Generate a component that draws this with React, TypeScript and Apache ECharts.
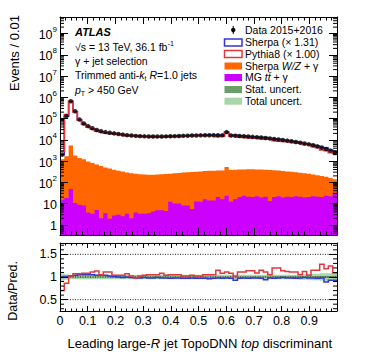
import React, { useEffect, useRef } from "react";
import * as echarts from "echarts";

const NBINS = 64;
const X_MIN = 0;
const X_MAX = 1;
const MAIN_YMIN = 0.33;
const MAIN_YMAX = 6e9;
const RATIO_YMIN = 0.25;
const RATIO_YMAX = 1.75;
const MAIN_Y_TICKS = [1, 10, 100, 1e3, 1e4, 1e5, 1e6, 1e7, 1e8, 1e9];
const RATIO_Y_TICKS = [0.5, 1, 1.5];

// Data 2015+2016 (events per bin)
const dataEvents = [
  2000, 130000, 650000, 220000, 90000, 58000, 44000, 35000, 29000, 25000,
  23000, 21500, 20000, 18800, 17500, 16500, 15800, 15200, 14800, 14500,
  14300, 14200, 14200, 14300, 14400, 14600, 14800, 15000, 15300, 15500,
  15800, 16000, 16200, 16300, 16400, 16400, 16300, 16200, 23000, 16000,
  15400, 15000, 14600, 14200, 13700, 13200, 12700, 12100, 11500, 10900,
  10300, 9700, 9100, 8500, 7900, 7300, 6700, 6100, 5500, 4900,
  4300, 3700, 3100, 2500,
];

// Sherpa W/Z + gamma (stacked top)
const wzGamma = [
  1200, 1700, 5400, 1800, 1400, 1200, 950, 800, 680, 580,
  500, 440, 390, 350, 320, 290, 265, 250, 240, 232,
  228, 228, 232, 238, 245, 255, 265, 275, 285, 295,
  305, 315, 325, 335, 345, 350, 355, 360, 520, 375,
  385, 395, 400, 405, 405, 400, 395, 390, 380, 370,
  355, 340, 325, 310, 295, 280, 265, 250, 235, 215,
  200, 180, 160, 140,
];

// MG ttbar + gamma
const ttGamma = [
  15, 18, 48, 10.5, 8.8, 8, 3.8, 3.3, 5, 2,
  3.5, 1.9, 2.7, 3, 2.5, 3.3, 2, 3.8, 3.3, 3.3,
  3.5, 4.2, 4.8, 4.8, 4.5, 12, 10, 10, 8, 8,
  5.5, 12.6, 12, 16, 14, 14, 20, 16, 23, 12.6,
  16, 20, 23, 21, 20, 22, 19, 21, 13, 20,
  22, 19, 21, 20, 22, 21, 19, 20, 22, 21,
  20, 23, 22, 32,
];

// Data / Pythia8 (x 1.00)
const ratioPythia = [
  0.7, 0.86, 1.02, 1.07, 1.07, 1.08, 1.08, 1.11, 1.13, 1.05,
  1.11, 1.11, 1.04, 1.04, 1.04, 1.07, 1.02, 0.98, 1.02, 1.04,
  1.05, 1.05, 1.05, 1.08, 1.04, 1.05, 1.05, 1.05, 1.02, 1.02,
  1.04, 1.02, 1.02, 1.05, 1.05, 1.05, 1.15, 1.08, 1.11, 1.08,
  1.02, 1.11, 1.11, 1.14, 1.14, 1.09, 1.15, 1.11, 1.05, 1.2,
  1.2, 1.14, 1.12, 1.11, 1.11, 1.05, 1.12, 1.04, 1.15, 1.15,
  1.28, 1.18, 1.24, 1.09,
];

// Data / Sherpa (x 1.31)
const ratioSherpa = [
  1.0, 1.01, 1.02, 1.04, 1.05, 1.05, 1.05, 1.05, 1.04, 1.04,
  1.04, 1.02, 1.01, 1.0, 0.99, 1.0, 0.99, 0.98, 0.98, 0.99,
  0.98, 0.98, 0.99, 0.98, 0.98, 0.97, 0.98, 0.98, 0.97, 0.97,
  0.98, 0.97, 0.97, 0.97, 0.96, 0.97, 0.98, 0.97, 0.98, 0.97,
  0.93, 0.97, 0.98, 0.97, 0.98, 0.98, 0.97, 0.94, 0.98, 0.97,
  0.98, 0.99, 0.98, 0.98, 0.97, 0.98, 0.99, 0.98, 0.98, 0.97,
  0.98, 0.89, 0.93, 0.93,
];

// Relative uncertainties (half widths)
const statUnc = [
  0.03, 0.015, 0.01, 0.012, 0.012, 0.012, 0.012, 0.012, 0.012, 0.012,
  0.012, 0.012, 0.012, 0.012, 0.012, 0.012, 0.012, 0.012, 0.012, 0.012,
  0.012, 0.012, 0.012, 0.012, 0.012, 0.012, 0.012, 0.012, 0.012, 0.012,
  0.012, 0.012, 0.012, 0.012, 0.012, 0.012, 0.012, 0.012, 0.012, 0.012,
  0.012, 0.012, 0.012, 0.012, 0.012, 0.012, 0.012, 0.012, 0.012, 0.014,
  0.014, 0.014, 0.015, 0.015, 0.016, 0.016, 0.017, 0.018, 0.019, 0.02,
  0.021, 0.022, 0.024, 0.026,
];
const totalUnc = [
  0.08, 0.06, 0.05, 0.05, 0.05, 0.05, 0.05, 0.05, 0.05, 0.05,
  0.05, 0.05, 0.05, 0.05, 0.05, 0.05, 0.05, 0.05, 0.05, 0.05,
  0.05, 0.05, 0.05, 0.05, 0.05, 0.05, 0.05, 0.05, 0.05, 0.05,
  0.05, 0.05, 0.05, 0.05, 0.05, 0.05, 0.05, 0.05, 0.05, 0.05,
  0.05, 0.05, 0.05, 0.05, 0.05, 0.05, 0.05, 0.05, 0.05, 0.05,
  0.05, 0.05, 0.05, 0.05, 0.05, 0.06, 0.06, 0.06, 0.07, 0.07,
  0.08, 0.08, 0.08, 0.08,
];

// predictions shown in the main panel: data / (data/pred)
const pythiaPred = dataEvents.map((d, i) => d / ratioPythia[i]);
const sherpaPred = dataEvents.map((d, i) => d / ratioSherpa[i]);

const FONT = "'Liberation Sans', Arial, Helvetica, sans-serif";
const C_ORANGE = "#ff6600";
const C_PURPLE = "#cc00ff";
const C_RED = "#e2383c";
const C_BLUE = "#3434d8";
const C_STAT = "#6a9e6a";
const C_TOTAL = "#a8d6a8";

// axis indices: main panel x0/y0, ratio panel x2/y2
const MAIN = { x: 0, y: 0 };
const RATIO = { x: 2, y: 2 };

const edge = (i: number) => X_MIN + ((X_MAX - X_MIN) * i) / NBINS;

function stepPts(api: any, vals: number[]) {
  const pts: number[][] = [];
  for (let i = 0; i < vals.length; i++) {
    pts.push(api.coord([edge(i), vals[i]]));
    pts.push(api.coord([edge(i + 1), vals[i]]));
  }
  return pts;
}

function customBase(ax: { x: number; y: number }, extra: any = {}) {
  return {
    type: "custom",
    xAxisIndex: ax.x,
    yAxisIndex: ax.y,
    coordinateSystem: "cartesian2d",
    silent: true,
    data: [[0.5, 1]],
    ...extra,
  };
}

function filledHist(vals: number[], color: string) {
  return customBase(MAIN, {
    clip: true,
    renderItem: (params: any, api: any) => {
      const cs = params.coordSys;
      const bottom = cs.y + cs.height;
      const pts = stepPts(api, vals);
      const poly = [[pts[0][0], bottom], ...pts, [pts[pts.length - 1][0], bottom]];
      return { type: "polygon", shape: { points: poly }, style: { fill: color, stroke: null } };
    },
  });
}

function outlineHist(vals: number[], color: string, width: number, ax: { x: number; y: number }, fromBottom: boolean) {
  return customBase(ax, {
    clip: true,
    renderItem: (params: any, api: any) => {
      const cs = params.coordSys;
      const bottom = cs.y + cs.height;
      let pts = stepPts(api, vals);
      if (fromBottom) pts = [[pts[0][0], bottom], ...pts];
      return {
        type: "polyline",
        shape: { points: pts },
        style: { stroke: color, lineWidth: width, fill: null, lineJoin: "miter" },
      };
    },
  });
}

function bandSeries(half: number[], color: string) {
  return customBase(RATIO, {
    clip: true,
    renderItem: (params: any, api: any) => {
      const up = stepPts(api, half.map((h) => 1 + h));
      const lo = stepPts(api, half.map((h) => 1 - h)).reverse();
      return { type: "polygon", shape: { points: [...up, ...lo] }, style: { fill: color, stroke: null } };
    },
  });
}

const minorLog: number[] = [];
for (let n = -1; n <= 9; n++) {
  for (let k = 2; k <= 9; k++) {
    const v = k * Math.pow(10, n);
    if (v > MAIN_YMIN && v < MAIN_YMAX) minorLog.push(v);
  }
}
const minorRatio: number[] = [];
for (let k = 3; k <= 17; k++) {
  if (k % 5 !== 0) minorRatio.push(k / 10);
}

function yMinorTicks(values: number[], ax: { x: number; y: number }, len: number) {
  return customBase(ax, {
    z: 20,
    renderItem: (params: any, api: any) => {
      const cs = params.coordSys;
      const L = cs.x;
      const R = cs.x + cs.width;
      const children: any[] = [];
      values.forEach((v) => {
        const y = api.coord([0.5, v])[1];
        children.push({ type: "line", shape: { x1: L, y1: y, x2: L + len, y2: y }, style: { stroke: "#000", lineWidth: 1 } });
        children.push({ type: "line", shape: { x1: R - len, y1: y, x2: R, y2: y }, style: { stroke: "#000", lineWidth: 1 } });
      });
      return { type: "group", children };
    },
  });
}

const ratioGuides = customBase(RATIO, {
  renderItem: (params: any, api: any) => {
    const cs = params.coordSys;
    const children = RATIO_Y_TICKS.map((v) => {
      const y = api.coord([0.5, v])[1];
      return {
        type: "line",
        shape: { x1: cs.x, y1: y, x2: cs.x + cs.width, y2: y },
        style: { stroke: "#222", lineWidth: 1, lineDash: [1, 1.5] },
      };
    });
    return { type: "group", children };
  },
});

const axisLineStyle = { show: true, onZero: false, lineStyle: { color: "#000", width: 1 } };

function xAxisDef(grid: number, pos: "top" | "bottom", labels: boolean) {
  return {
    gridIndex: grid,
    type: "value",
    min: X_MIN,
    max: X_MAX,
    interval: 0.1,
    position: pos,
    z: 10,
    axisLine: axisLineStyle,
    splitLine: { show: false },
    axisTick: { show: true, inside: true, length: grid === 0 ? 7 : 5, lineStyle: { color: "#000" } },
    minorTick: { show: true, splitNumber: 5, length: grid === 0 ? 3.5 : 2.5, lineStyle: { color: "#000" } },
    axisLabel: labels
      ? {
          show: true,
          margin: 3,
          color: "#000",
          fontFamily: FONT,
          fontSize: 12.5,
          formatter: (v: number) => (v > 0.95 ? "" : String(Number(v.toFixed(2)))),
        }
      : { show: false },
  };
}

const supRich = {
  b: { fontFamily: FONT, fontSize: 12.5, color: "#000", lineHeight: 16, verticalAlign: "bottom" },
  s: { fontFamily: FONT, fontSize: 8, color: "#000", lineHeight: 10, verticalAlign: "top" },
};

function buildOption() {
  const txt = (o: any) => ({ fontFamily: FONT, fill: "#000", ...o });
  const rich = {
    n: { fontFamily: FONT, fontSize: 10.5, lineHeight: 14, verticalAlign: "middle" },
    i: { fontFamily: FONT, fontSize: 10.5, fontStyle: "italic", lineHeight: 14, verticalAlign: "middle" },
    sub: { fontFamily: FONT, fontSize: 7, lineHeight: 8, verticalAlign: "bottom" },
    sup: { fontFamily: FONT, fontSize: 7, lineHeight: 8, verticalAlign: "top" },
    a: { fontFamily: FONT, fontSize: 13, lineHeight: 15 },
    ai: { fontFamily: FONT, fontSize: 13, fontStyle: "italic", lineHeight: 15 },
  };
  const text = (x: number, y: number, t: string, extra: any = {}) => ({
    type: "text",
    x,
    y,
    silent: true,
    z: 50,
    style: txt({
      text: t,
      rich,
      fontSize: 10.5,
      align: "left",
      textAlign: "left",
      verticalAlign: "middle",
      textVerticalAlign: "middle",
      ...(extra.style || {}),
    }),
  });

  const LX = 224.5;
  const LW = 17.5;
  const LH = 7;
  const TX = 245;
  const box = (y: number, fill: string, stroke: string | null) => ({
    type: "rect",
    z: 50,
    silent: true,
    shape: { x: LX, y, width: LW, height: LH },
    style: { fill, stroke, lineWidth: stroke ? 1.5 : 0 },
  });

  const graphic: any[] = [
    text(75, 32, "ATLAS", { style: { fontSize: 11, fontWeight: "bold", fontStyle: "italic" } }),
    text(75, 46.5, "{n|√s = 13 TeV, 36.1 fb}{sup|-1}"),
    text(75, 60.5, "{n|γ + jet selection}"),
    text(75, 75, "{n|Trimmed anti-}{i|k}{sub|t}{n| }{i|R}{n|=1.0 jets}"),
    text(75, 89.5, "{i|p}{sub|T}{n| > 450 GeV}"),
    {
      type: "line",
      z: 50,
      silent: true,
      shape: { x1: LX + LW / 2, y1: 26, x2: LX + LW / 2, y2: 34 },
      style: { stroke: "#000", lineWidth: 1 },
    },
    {
      type: "circle",
      z: 50,
      silent: true,
      shape: { cx: LX + LW / 2, cy: 30, r: 2.2 },
      style: { fill: "#000" },
    },
    box(39, "#fff", C_BLUE),
    box(50.5, "#fff", C_RED),
    box(62.5, C_ORANGE, null),
    box(74, C_PURPLE, null),
    box(86, C_STAT, null),
    box(97.7, C_TOTAL, null),
    text(TX, 30, "{n|Data 2015+2016}"),
    text(TX, 42.3, "{n|Sherpa (× 1.31)}"),
    text(TX, 53.8, "{n|Pythia8 (× 1.00)}"),
    text(TX, 65.8, "{n|Sherpa }{i|W/Z}{n| + γ}"),
    text(TX, 77.4, "{n|MG }{i|tt̄}{n| + γ}"),
    text(TX, 89.3, "{n|Stat. uncert.}"),
    text(TX, 101, "{n|Total uncert.}"),
    {
      type: "text",
      x: 14,
      y: 15,
      rotation: Math.PI / 2,
      silent: true,
      style: txt({ text: "Events / 0.01", fontSize: 13, align: "right", textAlign: "right", verticalAlign: "middle", textVerticalAlign: "middle" }),
    },
    {
      type: "text",
      x: 13,
      y: 261,
      rotation: Math.PI / 2,
      silent: true,
      style: txt({ text: "Data/Pred.", fontSize: 12.5, align: "right", textAlign: "right", verticalAlign: "middle", textVerticalAlign: "middle" }),
    },
    {
      type: "text",
      x: 332,
      y: 343,
      silent: true,
      style: txt({
        text: "{a|Leading large-}{ai|R}{a| jet TopoDNN }{ai|top}{a| discriminant}",
        rich,
        fontSize: 13,
        align: "right",
        textAlign: "right",
        verticalAlign: "middle",
        textVerticalAlign: "middle",
      }),
    },
  ];

  const dataPoints = dataEvents.map((v, i) => [(edge(i) + edge(i + 1)) / 2, v]);

  return {
    animation: false,
    backgroundColor: "#fff",
    textStyle: { fontFamily: FONT },
    grid: [
      { left: 60, top: 17, width: 277, height: 218 },
      { left: 60, top: 243, width: 277, height: 68 },
    ],
    xAxis: [xAxisDef(0, "bottom", false), xAxisDef(0, "top", false), xAxisDef(1, "bottom", true), xAxisDef(1, "top", false)],
    yAxis: [
      {
        gridIndex: 0,
        type: "log",
        logBase: 10,
        min: MAIN_YMIN,
        max: MAIN_YMAX,
        position: "left",
        z: 10,
        axisLine: axisLineStyle,
        splitLine: { show: false },
        axisTick: { show: true, inside: true, length: 8, lineStyle: { color: "#000" }, customValues: MAIN_Y_TICKS },
        axisLabel: {
          show: true,
          margin: 3,
          customValues: MAIN_Y_TICKS,
          rich: supRich,
          formatter: (v: number) => {
            const l = Math.log10(v);
            const r = Math.round(l);
            if (Math.abs(l - r) > 1e-6) return "";
            if (r === 0) return "{b|1}";
            if (r === 1) return "{b|10}";
            return `{b|10}{s|${r}}`;
          },
        },
      },
      {
        gridIndex: 0,
        type: "log",
        logBase: 10,
        min: MAIN_YMIN,
        max: MAIN_YMAX,
        position: "right",
        z: 10,
        axisLine: axisLineStyle,
        splitLine: { show: false },
        axisTick: { show: true, inside: true, length: 8, lineStyle: { color: "#000" }, customValues: MAIN_Y_TICKS },
        axisLabel: { show: false },
      },
      {
        gridIndex: 1,
        type: "value",
        min: RATIO_YMIN,
        max: RATIO_YMAX,
        interval: 0.25,
        position: "left",
        z: 10,
        axisLine: axisLineStyle,
        splitLine: { show: false },
        axisTick: { show: true, inside: true, length: 8, lineStyle: { color: "#000" }, customValues: RATIO_Y_TICKS },
        axisLabel: {
          show: true,
          margin: 3,
          color: "#000",
          fontFamily: FONT,
          fontSize: 12.5,
          customValues: RATIO_Y_TICKS,
          formatter: (v: number) => (RATIO_Y_TICKS.some((t) => Math.abs(t - v) < 1e-6) ? String(v) : ""),
        },
      },
      {
        gridIndex: 1,
        type: "value",
        min: RATIO_YMIN,
        max: RATIO_YMAX,
        interval: 0.25,
        position: "right",
        z: 10,
        axisLine: axisLineStyle,
        splitLine: { show: false },
        axisTick: { show: true, inside: true, length: 8, lineStyle: { color: "#000" }, customValues: RATIO_Y_TICKS },
        axisLabel: { show: false },
      },
    ],
    series: [
      filledHist(wzGamma, C_ORANGE),
      filledHist(ttGamma, C_PURPLE),
      outlineHist(sherpaPred, C_BLUE, 1.5, MAIN, true),
      outlineHist(pythiaPred, C_RED, 1.8, MAIN, true),
      {
        type: "scatter",
        xAxisIndex: 0,
        yAxisIndex: 0,
        data: dataPoints,
        symbol: "circle",
        symbolSize: 4.5,
        itemStyle: { color: "#000" },
        silent: true,
        z: 5,
      },
      yMinorTicks(minorLog, MAIN, 4),
      bandSeries(totalUnc, C_TOTAL),
      bandSeries(statUnc, C_STAT),
      ratioGuides,
      outlineHist(ratioSherpa, C_BLUE, 1.5, RATIO, false),
      outlineHist(ratioPythia, C_RED, 1.5, RATIO, false),
      yMinorTicks(minorRatio, RATIO, 4),
    ],
    graphic,
  };
}

export default function App() {
  const ref = useRef<HTMLDivElement>(null);
  useEffect(() => {
    if (!ref.current) return;
    const chart = echarts.init(ref.current, null, { renderer: "svg" });
    chart.setOption(buildOption() as any);
    return () => chart.dispose();
  }, []);
  return <div ref={ref} style={{ position: "fixed", left: 0, top: 0, width: 374, height: 359 }} />;
}
